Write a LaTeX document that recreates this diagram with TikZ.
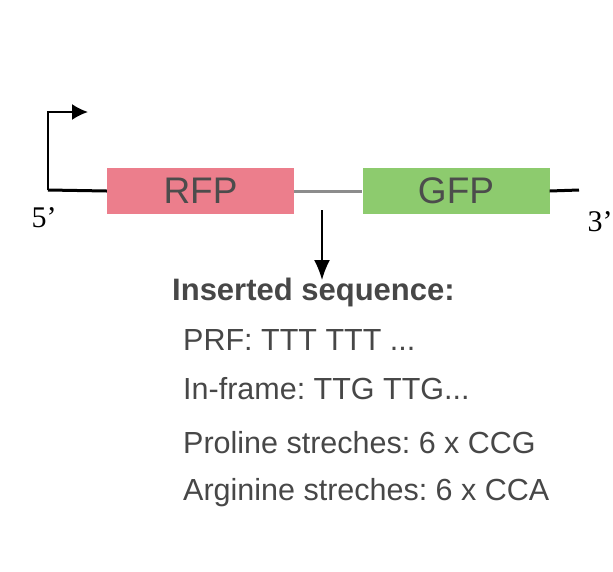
\documentclass[tikz,border=0pt]{standalone}
\usepackage{fontspec}
\usetikzlibrary{arrows.meta}
\setmainfont{Liberation Serif}
\setsansfont{Liberation Sans}
\frenchspacing
\begin{document}
\begin{tikzpicture}[x=1pt,y=-1pt,
  gene/.style={draw=none,minimum height=46pt,minimum width=187pt,inner sep=0pt,font=\sffamily\fontsize{37}{37}\selectfont,text=black!70},
  seqtxt/.style={anchor=west,font=\sffamily\fontsize{30.5}{30}\selectfont,text=black!72,inner sep=0pt},
  bk/.style={line width=3pt,black}]
\useasboundingbox (0,0) rectangle (613,571);
\definecolor{rfp}{HTML}{EC7E8C}
\definecolor{gfp}{HTML}{8DCB6E}
\node[gene,fill=rfp] (rfp) at (200.5,191) {RFP};
\node[gene,fill=gfp] (gfp) at (456,191) {GFP};
\coordinate (start) at (48,190);
\coordinate (top) at (48,112);
\coordinate (tip) at (88,112);
\coordinate (endr) at (579,190);
\draw[bk] (start) -- (rfp.west);
\draw[bk] (gfp.east) -- (endr);
\draw[line width=3pt,black!45] (rfp.east) -- (gfp.west);
\draw[line width=2pt,-{Latex[length=16pt,width=16pt]}] (start) -- (top) -- (tip);
\node[font=\fontsize{30}{30}\selectfont] (five) at (44,218) {5'};
\node[font=\fontsize{30}{30}\selectfont] (three) at (600,222) {3'};
\coordinate (a1) at (322,210);
\node[seqtxt,font=\sffamily\bfseries\fontsize{31}{31}\selectfont] (ins) at (172,292) {Inserted sequence:};
\draw[line width=1.6pt,-{Latex[length=20pt,width=16pt]}] (a1) -- (322,280);
\node[seqtxt] (l1) at (183,340) {PRF: TTT TTT ...};
\node[seqtxt] (l2) at (183,389) {In-frame: TTG TTG...};
\node[seqtxt] (l3) at (183,443) {Proline streches: 6 x CCG};
\node[seqtxt] (l4) at (183,493) {Arginine streches: 6 x CCA};
\end{tikzpicture}
\end{document}
